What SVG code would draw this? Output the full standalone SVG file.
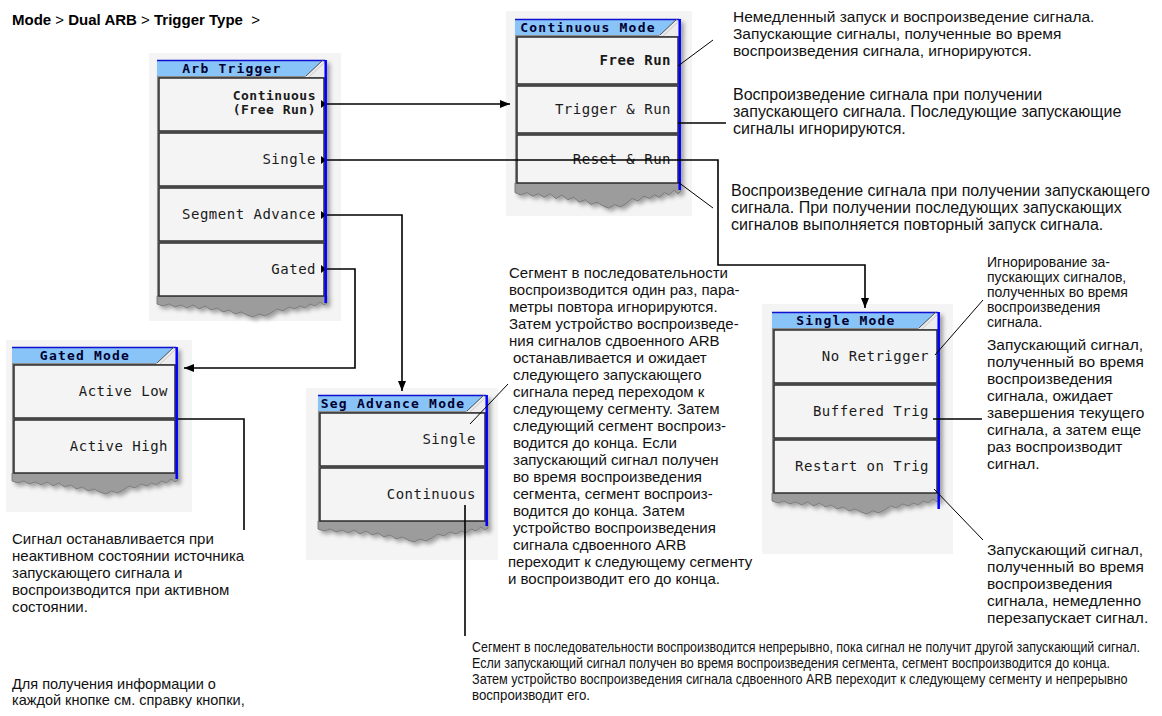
<svg xmlns="http://www.w3.org/2000/svg" width="1162" height="716" viewBox="0 0 1162 716">
<style>
.bgp{fill:#f4f4f4}
.body{fill:#8c8c8c}
.lt{fill:#ececec}
.tbar{fill:#88c4f8}
.tline{stroke:#1010d0;stroke-width:1.5}
.slant{stroke:#555;stroke-width:1;fill:none}
.slant2{stroke:#c8c8c8;stroke-width:1;fill:none}
.ttl{font-family:"DejaVu Sans Mono",monospace;font-weight:bold;font-size:13px;letter-spacing:1.2px;fill:#000030;text-anchor:middle}
.btn{fill:#f4f4f4;stroke:#2e2e2e;stroke-width:1.5}
.lbl{font-family:"DejaVu Sans Mono",monospace;font-size:14px;letter-spacing:0.5px;fill:#1a1a1a;text-anchor:end}
.bold{font-weight:bold}
.sm{font-size:13px}
.blue{stroke:#0000ff;stroke-width:2.5}
.torn{fill:#9c9c9c;stroke:#707070;stroke-width:0.8}
.tx{font-family:"Liberation Sans",Arial,sans-serif;font-size:15.5px;fill:#111}
.hd{font-family:"Liberation Sans",Arial,sans-serif;font-size:15px;fill:#000}
.con{fill:none;stroke:#000;stroke-width:1.6}
.call{fill:none;stroke:#000;stroke-width:1}
.call2{fill:none;stroke:#000;stroke-width:1.6}
</style>
<defs>
<filter id="sh" x="-10%" y="-10%" width="125%" height="125%">
<feDropShadow dx="3" dy="3" stdDeviation="2" flood-color="#000" flood-opacity="0.35"/>
</filter>
<path id="torn" d="M0,0 H170 V7 L167,9 L163,6 L158,10 L153,8 L148,12 L143,10 L138,13 L132,11 L126,15 L120,13 L114,17 L108,20 L102,18 L96,21 L90,19 L84,16 L78,18 L72,14 L66,16 L60,12 L54,14 L48,10 L42,13 L36,9 L30,12 L24,9 L18,11 L12,8 L6,10 L0,8 Z"/>
<marker id="ah" viewBox="0 0 10 8" refX="10" refY="4" markerWidth="10" markerHeight="8" markerUnits="userSpaceOnUse" orient="auto">
<path d="M0,0 L10,4 L0,8 Z" fill="#000"/>
</marker>
</defs>
<rect width="1162" height="716" fill="#fff"/>

<text class="hd" x="12" y="25"><tspan font-weight="bold">Mode</tspan> &gt; <tspan font-weight="bold">Dual ARB</tspan> &gt; <tspan font-weight="bold">Trigger Type</tspan>&#160; &gt;</text>

<!-- Arb Trigger -->
<g id="arb-trigger" transform="translate(157,60)">
<rect class="bgp" x="-8" y="-7" width="192" height="268"/>
<g filter="url(#sh)">
<rect class="body" x="0" y="0" width="170" height="237"/>
<use href="#torn" class="torn" transform="translate(0,236)"/>
</g>
<polygon class="lt" points="148,17 166,0 170,0 170,17"/>
<polygon class="tbar" points="0,0 166,0 149,16 0,16"/>
<line class="tline" x1="0" y1="0.5" x2="168" y2="0.5"/>
<line class="slant" x1="149" y1="16" x2="166" y2="0"/>
<line class="slant2" x1="152" y1="17" x2="169" y2="1"/>
<text class="ttl" x="75" y="13">Arb Trigger</text>
<rect class="btn" x="2" y="18" width="165" height="53"/>
<rect class="btn" x="2" y="73" width="165" height="53"/>
<rect class="btn" x="2" y="128" width="165" height="53"/>
<rect class="btn" x="2" y="183" width="165" height="53"/>
<text class="lbl bold sm" x="159" y="40">Continuous</text>
<text class="lbl bold sm" x="159" y="54">(Free Run)</text>
<text class="lbl" x="159" y="104">Single</text>
<text class="lbl" x="159" y="159">Segment Advance</text>
<text class="lbl" x="159" y="214">Gated</text>
<polygon points="164,40 169,44 164,48" fill="#000"/>
<polygon points="164,96 169,100 164,104" fill="#000"/>
<polygon points="164,151 169,155 164,159" fill="#000"/>
<polygon points="164,205 169,209 164,213" fill="#000"/>
<line class="blue" x1="168.7" y1="0" x2="168.7" y2="243"/>
</g>

<!-- Continuous Mode -->
<g id="continuous-mode" transform="translate(515,19)">
<rect class="bgp" x="-9" y="-8" width="186" height="205"/>
<g filter="url(#sh)">
<rect class="body" x="0" y="0" width="166" height="165"/>
<use href="#torn" class="torn" transform="translate(0,164) scale(0.976,1.2)"/>
</g>
<polygon class="lt" points="144,17 162,0 166,0 166,17"/>
<polygon class="tbar" points="0,0 162,0 145,16 0,16"/>
<line class="tline" x1="0" y1="0.5" x2="164" y2="0.5"/>
<line class="slant" x1="145" y1="16" x2="162" y2="0"/>
<line class="slant2" x1="148" y1="17" x2="165" y2="1"/>
<text class="ttl" x="73" y="13">Continuous Mode</text>
<rect class="btn" x="2" y="18" width="161" height="47"/>
<rect class="btn" x="2" y="67" width="161" height="47"/>
<rect class="btn" x="2" y="116" width="161" height="48"/>
<text class="lbl bold" x="156" y="46">Free Run</text>
<text class="lbl" x="156" y="95">Trigger &amp; Run</text>
<text class="lbl" x="156" y="145">Reset &amp; Run</text>
<line class="blue" x1="164.7" y1="0" x2="164.7" y2="171"/>
</g>

<!-- Gated Mode -->
<g id="gated-mode" transform="translate(12,347)">
<rect class="bgp" x="-6" y="-7" width="186" height="172"/>
<g filter="url(#sh)">
<rect class="body" x="0" y="0" width="166" height="127"/>
<use href="#torn" class="torn" transform="translate(0,126) scale(0.976,1)"/>
</g>
<polygon class="lt" points="144,17 162,0 166,0 166,17"/>
<polygon class="tbar" points="0,0 162,0 145,16 0,16"/>
<line class="tline" x1="0" y1="0.5" x2="164" y2="0.5"/>
<line class="slant" x1="145" y1="16" x2="162" y2="0"/>
<line class="slant2" x1="148" y1="17" x2="165" y2="1"/>
<text class="ttl" x="73" y="13">Gated Mode</text>
<rect class="btn" x="2" y="18" width="161" height="53"/>
<rect class="btn" x="2" y="73" width="161" height="53"/>
<text class="lbl" x="156" y="49">Active Low</text>
<text class="lbl" x="156" y="104">Active High</text>
<line class="blue" x1="164.7" y1="0" x2="164.7" y2="132"/>
</g>

<!-- Seg Advance Mode -->
<g id="seg-advance-mode" transform="translate(318,395)">
<rect class="bgp" x="-12" y="-7" width="192" height="172"/>
<g filter="url(#sh)">
<rect class="body" x="0" y="0" width="170" height="127"/>
<use href="#torn" class="torn" transform="translate(0,126)"/>
</g>
<polygon class="lt" points="148,17 166,0 170,0 170,17"/>
<polygon class="tbar" points="0,0 166,0 149,16 0,16"/>
<line class="tline" x1="0" y1="0.5" x2="168" y2="0.5"/>
<line class="slant" x1="149" y1="16" x2="166" y2="0"/>
<line class="slant2" x1="152" y1="17" x2="169" y2="1"/>
<text class="ttl" x="75" y="13">Seg Advance Mode</text>
<rect class="btn" x="2" y="18" width="165" height="53"/>
<rect class="btn" x="2" y="73" width="165" height="53"/>
<text class="lbl" x="158" y="49">Single</text>
<text class="lbl" x="158" y="104">Continuous</text>
<line class="blue" x1="168.7" y1="0" x2="168.7" y2="131"/>
</g>

<!-- Single Mode -->
<g id="single-mode" transform="translate(772,312)">
<rect class="bgp" x="-10" y="-8" width="191" height="250"/>
<g filter="url(#sh)">
<rect class="body" x="0" y="0" width="168" height="182"/>
<use href="#torn" class="torn" transform="translate(0,181) scale(0.988,1)"/>
</g>
<polygon class="lt" points="146,17 164,0 168,0 168,17"/>
<polygon class="tbar" points="0,0 164,0 147,16 0,16"/>
<line class="tline" x1="0" y1="0.5" x2="166" y2="0.5"/>
<line class="slant" x1="147" y1="16" x2="164" y2="0"/>
<line class="slant2" x1="150" y1="17" x2="167" y2="1"/>
<text class="ttl" x="74" y="13">Single Mode</text>
<rect class="btn" x="2" y="18" width="163" height="53"/>
<rect class="btn" x="2" y="73" width="163" height="53"/>
<rect class="btn" x="2" y="128" width="163" height="53"/>
<text class="lbl" x="157" y="49">No Retrigger</text>
<text class="lbl" x="157" y="104">Buffered Trig</text>
<text class="lbl" x="157" y="159">Restart on Trig</text>
<line class="blue" x1="166.7" y1="0" x2="166.7" y2="197"/>
</g>

<!-- connectors -->
<g id="connectors">
<path class="con" d="M327,104 H510" marker-end="url(#ah)"/>
<path class="con" d="M327,160 H718 V265 H865 V308" marker-end="url(#ah)"/>
<path class="con" d="M327,215 H402 V391" marker-end="url(#ah)"/>
<path class="con" d="M327,269 H355 V368 H184" marker-end="url(#ah)"/>
<line class="call" x1="678" y1="66" x2="713" y2="40"/>
<line class="call2" x1="678" y1="123" x2="726" y2="123"/>
<line class="call" x1="678" y1="182" x2="713" y2="208"/>
<path class="call2" d="M178,419 H244 V530"/>
<line class="call" x1="470" y1="424" x2="508" y2="384"/>
<line class="call2" x1="465" y1="505" x2="465" y2="636"/>
<line class="call" x1="935" y1="355" x2="983" y2="300"/>
<line class="call2" x1="933" y1="419" x2="982" y2="419"/>
<line class="call" x1="934" y1="489" x2="983" y2="540"/>
</g>

<!-- descriptions -->
<g id="desc-free-run" class="tx">
<text x="733" y="22">Немедленный запуск и воспроизведение сигнала.</text>
<text x="733" y="39">Запускающие сигналы, полученные во время</text>
<text x="733" y="56">воспроизведения сигнала, игнорируются.</text>
</g>
<g id="desc-trigger-run" class="tx" style="font-size:16px">
<text x="733" y="100">Воспроизведение сигнала при получении</text>
<text x="733" y="117">запускающего сигнала. Последующие запускающие</text>
<text x="733" y="134">сигналы игнорируются.</text>
</g>
<g id="desc-reset-run" class="tx" style="font-size:16px">
<text x="731" y="196">Воспроизведение сигнала при получении запускающего</text>
<text x="731" y="213">сигнала. При получении последующих запускающих</text>
<text x="731" y="230">сигналов выполняется повторный запуск сигнала.</text>
</g>
<g id="desc-seg-single" class="tx" style="font-size:15px">
<text x="509" y="278">Сегмент в последовательности</text>
<text x="509" y="295">воспроизводится один раз, пара-</text>
<text x="509" y="312">метры повтора игнорируются.</text>
<text x="509" y="329">Затем устройство воспроизведе-</text>
<text x="509" y="346">ния сигналов сдвоенного ARB</text>
<text x="513" y="363">останавливается и ожидает</text>
<text x="513" y="380">следующего запускающего</text>
<text x="513" y="397">сигнала перед переходом к</text>
<text x="513" y="414">следующему сегменту. Затем</text>
<text x="513" y="431">следующий сегмент воспроиз-</text>
<text x="513" y="448">водится до конца. Если</text>
<text x="513" y="465">запускающий сигнал получен</text>
<text x="513" y="482">во время воспроизведения</text>
<text x="513" y="499">сегмента, сегмент воспроиз-</text>
<text x="513" y="516">водится до конца. Затем</text>
<text x="513" y="533">устройство воспроизведения</text>
<text x="513" y="550">сигнала сдвоенного ARB</text>
<text x="508" y="567">переходит к следующему сегменту</text>
<text x="508" y="584">и воспроизводит его до конца.</text>
</g>
<g id="desc-gated" class="tx" style="font-size:15px">
<text x="12" y="544">Сигнал останавливается при</text>
<text x="12" y="561">неактивном состоянии источника</text>
<text x="12" y="578">запускающего сигнала и</text>
<text x="12" y="595">воспроизводится при активном</text>
<text x="12" y="612">состоянии.</text>
</g>
<g id="desc-no-retrigger" class="tx" style="font-size:14px">
<text x="987" y="267">Игнорирование за-</text>
<text x="987" y="282">пускающих сигналов,</text>
<text x="987" y="297">полученных во время</text>
<text x="987" y="312">воспроизведения</text>
<text x="987" y="327">сигнала.</text>
</g>
<g id="desc-buffered" class="tx">
<text x="987" y="350">Запускающий сигнал,</text>
<text x="987" y="367">полученный во время</text>
<text x="987" y="384">воспроизведения</text>
<text x="987" y="401">сигнала, ожидает</text>
<text x="987" y="418">завершения текущего</text>
<text x="987" y="435">сигнала, а затем еще</text>
<text x="987" y="452">раз воспроизводит</text>
<text x="987" y="469">сигнал.</text>
</g>
<g id="desc-restart" class="tx">
<text x="987" y="555">Запускающий сигнал,</text>
<text x="987" y="572">полученный во время</text>
<text x="987" y="589">воспроизведения</text>
<text x="987" y="606">сигнала, немедленно</text>
<text x="987" y="623">перезапускает сигнал.</text>
</g>
<g id="desc-seg-continuous" class="tx" style="font-size:14px">
<text transform="translate(472,652) scale(0.88,1)" x="0" y="0" textLength="759" lengthAdjust="spacingAndGlyphs">Сегмент в последовательности воспроизводится непрерывно, пока сигнал не получит другой запускающий сигнал.</text>
<text transform="translate(472,668) scale(0.88,1)" x="0" y="0" textLength="725" lengthAdjust="spacingAndGlyphs">Если запускающий сигнал получен во время воспроизведения сегмента, сегмент воспроизводится до конца.</text>
<text transform="translate(472,684) scale(0.88,1)" x="0" y="0" textLength="745" lengthAdjust="spacingAndGlyphs">Затем устройство воспроизведения сигнала сдвоенного ARB переходит к следующему сегменту и непрерывно</text>
<text transform="translate(472,700) scale(0.88,1)" x="0" y="0" textLength="134" lengthAdjust="spacingAndGlyphs">воспроизводит его.</text>
</g>
<g id="note" class="tx" style="font-size:14.5px">
<text x="12" y="689">Для получения информации о</text>
<text x="12" y="705">каждой кнопке см. справку кнопки,</text>
</g>
</svg>
